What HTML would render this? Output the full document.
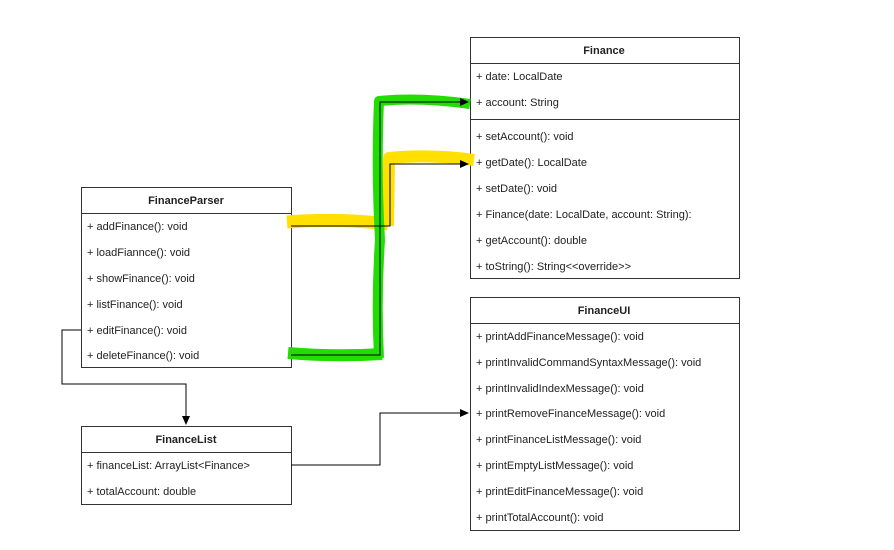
<!DOCTYPE html>
<html><head><style>body{margin:0;background:#fff}svg{display:block}text{font-family:"Liberation Sans",Arial,sans-serif;font-size:11px;fill:#222}.h{font-weight:bold;text-anchor:middle}</style></head>
<body>
<svg width="894" height="550" viewBox="0 0 894 550" xmlns="http://www.w3.org/2000/svg">
<defs><marker id="a" markerWidth="10" markerHeight="10" refX="8" refY="4" orient="auto" markerUnits="userSpaceOnUse"><path d="M0,0 L9,4 L0,8 Z" fill="#000"/></marker></defs>
<g fill="#fff" stroke="#333" stroke-width="1">
<rect x="81.5" y="187.5" width="210" height="180"/><line x1="81" y1="213.5" x2="291" y2="213.5"/>
<rect x="81.5" y="426.5" width="210" height="78"/><line x1="81" y1="452.5" x2="291" y2="452.5"/>
<rect x="470.5" y="37.5" width="269" height="241"/><line x1="470" y1="63.5" x2="739" y2="63.5"/><line x1="470" y1="119.5" x2="739" y2="119.5"/>
<rect x="470.5" y="297.5" width="269" height="233"/><line x1="470" y1="323.5" x2="739" y2="323.5"/>
</g>
<g fill="none" stroke-linecap="butt" stroke-linejoin="round">
<path d="M287,222 Q340,218 388,224" stroke="#ffe000" stroke-width="13"/>
<path d="M388,226 L389,158 Q430,154 474,160" stroke="#ffe000" stroke-width="12"/>
<path d="M379,358 Q376,300 380,240 Q376,170 379,101 Q420,97 470,104" stroke="#22dd00" stroke-width="10"/>
<path d="M288,353 Q335,357 382,354" stroke="#22dd00" stroke-width="12"/>
</g>
<g fill="none" stroke="#000" stroke-width="1">
<path d="M291,226 H390 V164 H468" marker-end="url(#a)"/>
<path d="M291,355 H380 V102 H468" marker-end="url(#a)"/>
<path d="M291,465 H380 V413 H468" marker-end="url(#a)"/>
<path d="M81,330 H62 V384 H186 V424" marker-end="url(#a)"/>
</g>
<text class="h" x="186" y="204">FinanceParser</text>
<text x="87" y="230">+ addFinance(): void</text>
<text x="87" y="256">+ loadFiannce(): void</text>
<text x="87" y="282">+ showFinance(): void</text>
<text x="87" y="308">+ listFinance(): void</text>
<text x="87" y="334">+ editFinance(): void</text>
<text x="87" y="359">+ deleteFinance(): void</text>
<text class="h" x="186" y="443">FinanceList</text>
<text x="87" y="469">+ financeList: ArrayList&lt;Finance&gt;</text>
<text x="87" y="495">+ totalAccount: double</text>
<text class="h" x="604" y="54">Finance</text>
<text x="476" y="80">+ date: LocalDate</text>
<text x="476" y="106">+ account: String</text>
<text x="476" y="140">+ setAccount(): void</text>
<text x="476" y="166">+ getDate(): LocalDate</text>
<text x="476" y="192">+ setDate(): void</text>
<text x="476" y="218">+ Finance(date: LocalDate, account: String):</text>
<text x="476" y="244">+ getAccount(): double</text>
<text x="476" y="270">+ toString(): String&lt;&lt;override&gt;&gt;</text>
<text class="h" x="604" y="314">FinanceUI</text>
<text x="476" y="340">+ printAddFinanceMessage(): void</text>
<text x="476" y="366">+ printInvalidCommandSyntaxMessage(): void</text>
<text x="476" y="392">+ printInvalidIndexMessage(): void</text>
<text x="476" y="417">+ printRemoveFinanceMessage(): void</text>
<text x="476" y="443">+ printFinanceListMessage(): void</text>
<text x="476" y="469">+ printEmptyListMessage(): void</text>
<text x="476" y="495">+ printEditFinanceMessage(): void</text>
<text x="476" y="521">+ printTotalAccount(): void</text>
</svg>
</body></html>
